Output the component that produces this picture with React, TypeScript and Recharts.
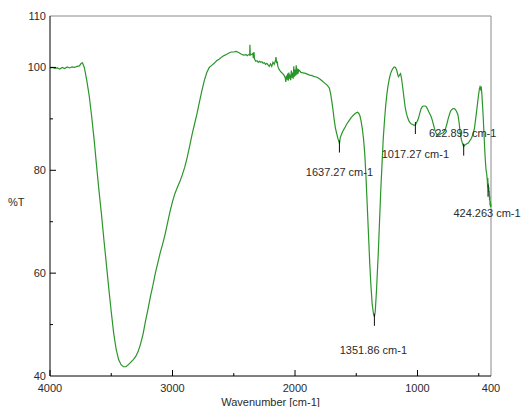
import { LineChart, Line, XAxis, YAxis, ReferenceLine, ReferenceDot } from "recharts"

document.body.style.margin = "0"

// FTIR spectrum, wavenumber (cm-1) vs transmittance (%T)
const wavenumbers = [
  4000, 3980, 3960, 3940, 3920, 3900, 3880, 3860, 3840, 3820, 3800, 3780, 3760, 3745, 3735, 3720, 3710, 3700,
  3680, 3660, 3640, 3620, 3600, 3580, 3560, 3540, 3520, 3500, 3480, 3460, 3440, 3420, 3400, 3380, 3360, 3340,
  3320, 3300, 3280, 3260, 3240, 3220, 3200, 3180, 3160, 3140, 3120, 3100, 3080, 3060, 3040, 3020, 3000, 2980,
  2960, 2940, 2920, 2900, 2880, 2860, 2840, 2820, 2800, 2780, 2760, 2740, 2720, 2700, 2680, 2660, 2640, 2620,
  2600, 2580, 2560, 2540, 2520, 2500, 2480, 2460, 2440, 2420, 2400, 2390, 2380, 2370, 2368, 2365, 2355, 2345,
  2340, 2335, 2330, 2320, 2310, 2300, 2290, 2280, 2270, 2260, 2250, 2240, 2230, 2220, 2210, 2200, 2190, 2180,
  2170, 2160, 2155, 2150, 2145, 2140, 2130, 2120, 2110, 2100, 2090, 2080, 2075, 2070, 2065, 2060, 2055, 2050,
  2045, 2040, 2035, 2030, 2025, 2020, 2015, 2010, 2005, 2000, 1995, 1990, 1985, 1980, 1975, 1970, 1960, 1950,
  1940, 1930, 1920, 1900, 1880, 1860, 1840, 1820, 1800, 1780, 1760, 1740, 1730, 1720, 1710, 1700, 1690, 1680,
  1670, 1660, 1650, 1640, 1637, 1630, 1620, 1610, 1600, 1590, 1580, 1560, 1540, 1520, 1500, 1490, 1480, 1470,
  1460, 1450, 1440, 1430, 1420, 1410, 1400, 1390, 1380, 1370, 1360, 1352, 1345, 1335, 1320, 1310, 1300, 1290,
  1280, 1270, 1260, 1250, 1240, 1230, 1220, 1210, 1200, 1190, 1180, 1170, 1160, 1155, 1145, 1138, 1130, 1120,
  1110, 1100, 1090, 1080, 1070, 1060, 1050, 1040, 1030, 1017, 1010, 1000, 990, 980, 970, 960, 950, 940,
  930, 920, 910, 900, 890, 880, 870, 860, 850, 840, 830, 820, 810, 800, 790, 780, 770, 760,
  750, 740, 730, 720, 710, 700, 690, 680, 670, 660, 650, 640, 630, 623, 615, 605, 595, 585,
  575, 565, 555, 545, 535, 525, 515, 505, 495, 490, 485, 480, 475, 470, 465, 460, 455, 450,
  445, 440, 435, 430, 428, 426, 424, 422, 420, 418, 416, 414, 412, 410, 408, 406, 404, 402,
  400,
]

const transmittance = [
  99.9, 100.0, 99.8, 99.9, 99.7, 100.0, 99.8, 100.1, 99.9, 100.1, 100.0, 100.2, 100.3, 100.8, 100.9, 100.0, 98.8, 97.5,
  94.5, 90.5, 86.0, 80.9, 76.0, 71.5, 66.5, 61.8, 57.0, 52.5, 48.3, 45.2, 43.2, 42.2, 41.8, 41.8, 42.2, 42.7,
  43.2, 43.8, 44.8, 46.3, 48.2, 50.7, 53.0, 55.5, 57.6, 60.0, 62.0, 64.0, 65.7, 67.6, 69.8, 72.0, 73.9, 75.5,
  76.7, 77.8, 79.1, 80.6, 82.5, 84.7, 87.0, 89.0, 91.0, 93.3, 95.5, 97.5, 99.0, 100.0, 100.4, 100.8, 101.3, 101.6,
  102.0, 102.3, 102.5, 102.8, 103.0, 103.0, 103.1, 102.9, 102.6, 102.4, 102.5, 102.3, 102.5, 102.4, 104.4, 102.4, 102.5, 102.7,
  101.8, 103.0, 101.6, 101.2, 101.3, 101.0, 101.2, 101.0, 101.1, 100.8, 100.9, 100.6, 100.8, 100.5, 100.2, 100.7, 100.2, 101.0,
  100.6, 101.3, 102.0, 100.8, 101.2, 100.2, 99.6, 99.3, 99.0, 98.8, 98.5, 98.0, 97.2, 98.4, 97.6, 98.8, 97.4, 99.0,
  97.8, 98.6, 97.5, 99.4, 98.0, 99.0, 97.8, 100.2, 98.2, 99.6, 98.4, 100.4, 98.6, 99.8, 98.8, 99.5, 99.3, 99.0,
  99.0, 98.9, 98.9, 98.7, 98.5, 98.4, 98.2, 98.1, 97.8, 97.4, 97.0, 96.6, 96.3, 96.0, 95.0, 93.5, 91.8, 89.8,
  88.2, 87.2, 86.2, 85.5, 85.2, 86.4, 87.0, 87.6, 88.0, 88.4, 88.9, 89.6, 90.3, 90.8, 91.2, 91.3, 91.1, 90.6,
  89.5, 88.0, 86.0, 83.0, 78.5, 73.0, 67.5, 62.0, 57.5, 54.0, 52.2, 51.5, 52.5, 56.5, 64.0, 70.0, 76.0, 81.0,
  86.0, 89.5, 92.5, 94.8, 96.5, 97.8, 98.8, 99.4, 99.8, 100.1, 100.0, 99.5, 98.5, 98.2, 98.6, 98.8, 97.8, 96.0,
  94.0, 92.2, 91.0, 90.2, 89.6, 89.2, 89.0, 88.9, 88.8, 88.8, 89.2, 89.6, 90.3, 91.2, 92.0, 92.4, 92.5, 92.5,
  92.4, 92.0, 91.5, 91.0, 90.5, 89.8, 88.9, 88.0, 87.3, 86.9, 86.8, 86.9, 87.1, 87.2, 87.3, 87.6, 88.2, 89.0,
  90.0, 90.8, 91.5, 91.8, 92.0, 92.0, 91.8, 91.4, 90.8, 89.2, 87.0, 85.8, 85.0, 84.6, 84.9, 85.0, 85.2, 85.3,
  85.7, 86.0, 86.5, 87.2, 88.2, 90.0, 92.0, 94.0, 95.8, 96.2, 95.8, 96.3, 95.0, 93.0, 91.0, 88.5, 86.0, 83.5,
  81.5, 80.0, 79.3, 78.0, 77.0, 78.5, 76.5, 77.5, 75.8, 76.8, 75.0, 76.0, 74.2, 75.0, 73.2, 74.0, 72.8, 73.5,
  72.9,
]

const peakWavenumbers = [1637.27, 1351.86, 1017.27, 622.895, 424.263]
const peakTransmittance = [85.2, 51.5, 88.8, 84.6, 76.6]
const peakLabels = ["1637.27 cm-1", "1351.86 cm-1", "1017.27 cm-1", "622.895 cm-1", "424.263 cm-1"]

const xTicks = [4000, 3500, 3000, 2500, 2000, 1500, 1000, 500, 400]
const xLabeled = [4000, 3000, 2000, 1000, 400]
const yTicks = [40, 50, 60, 70, 80, 90, 100, 110]
const yLabeled = [40, 60, 80, 100, 110]

// label placement relative to each peak marker
const labelOffsets = [
  { dx: 0, dy: 32 },
  { dx: -1, dy: 37 },
  { dx: 0, dy: 33 },
  { dx: -1, dy: -10 },
  { dx: -1, dy: 29 },
]

const data = wavenumbers.map((wn, i) => ({ wn, t: transmittance[i] }))

const FONT = "'Liberation Sans', Arial, sans-serif"
const TEXT = "#2b2b2b"

function XTick(props: any) {
  const { x, y, payload } = props
  const major = xLabeled.includes(payload.value)
  return (
    <g>
      {payload.value !== 400 && (
        <line x1={x} x2={x} y1={y} y2={y - (major ? 6 : 3)} stroke="#000" />
      )}
      {major && (
        <text x={x} y={y + 16} textAnchor="middle" fontSize={11} fontFamily={FONT} fill={TEXT}>
          {payload.value}
        </text>
      )}
    </g>
  )
}

function YTick(props: any) {
  const { x, y, payload } = props
  const major = yLabeled.includes(payload.value)
  return (
    <g>
      {payload.value !== 110 && payload.value !== 40 && (
        <line x1={x} x2={x + (major ? 6 : 3)} y1={y} y2={y} stroke="#000" />
      )}
      {major && (
        <text x={x - 4} y={y + 4} textAnchor="end" fontSize={11} fontFamily={FONT} fill={TEXT}>
          {payload.value}
        </text>
      )}
    </g>
  )
}

function PeakMark(i: number) {
  return (props: any) => {
    const { cx, cy } = props
    const o = labelOffsets[i]
    return (
      <g>
        <line x1={cx} x2={cx} y1={cy - 3} y2={cy + 9} stroke="#111" strokeWidth={1} />
        <text x={cx + o.dx} y={cy + o.dy} textAnchor="middle" fontSize={11} fontFamily={FONT} fill={TEXT}>
          {peakLabels[i]}
        </text>
      </g>
    )
  }
}

export default function App() {
  return (
    <LineChart width={522} height={407} data={data} margin={{ top: 16, right: 31, left: 0, bottom: 0 }}>
      <XAxis
        dataKey="wn"
        type="number"
        domain={[400, 4000]}
        reversed
        ticks={xTicks}
        interval={0}
        tickSize={0}
        tickMargin={0}
        tick={XTick}
        tickLine={false}
        axisLine={{ stroke: "#000" }}
        height={31}
        label={{ value: "Wavenumber [cm-1]", position: "insideBottom", offset: 1, fontSize: 11, fontFamily: FONT, fill: TEXT }}
      />
      <YAxis
        type="number"
        domain={[40, 110]}
        ticks={yTicks}
        interval={0}
        tickSize={0}
        tickMargin={0}
        tick={YTick}
        tickLine={false}
        axisLine={{ stroke: "#000" }}
        width={50}
        label={{ value: "%T", position: "insideLeft", offset: 8, dy: 6, fontSize: 11, fontFamily: FONT, fill: TEXT }}
      />
      <ReferenceLine y={110} stroke="#8a8a8a" strokeWidth={1} />
      <ReferenceLine x={400} stroke="#8a8a8a" strokeWidth={1} />
      <Line
        dataKey="t"
        type="linear"
        stroke="#2a962a"
        strokeWidth={1.2}
        dot={false}
        isAnimationActive={false}
      />
      {peakWavenumbers.map((wn, i) => (
        <ReferenceDot key={wn} x={wn} y={peakTransmittance[i]} r={0} shape={PeakMark(i)} />
      ))}
    </LineChart>
  )
}
